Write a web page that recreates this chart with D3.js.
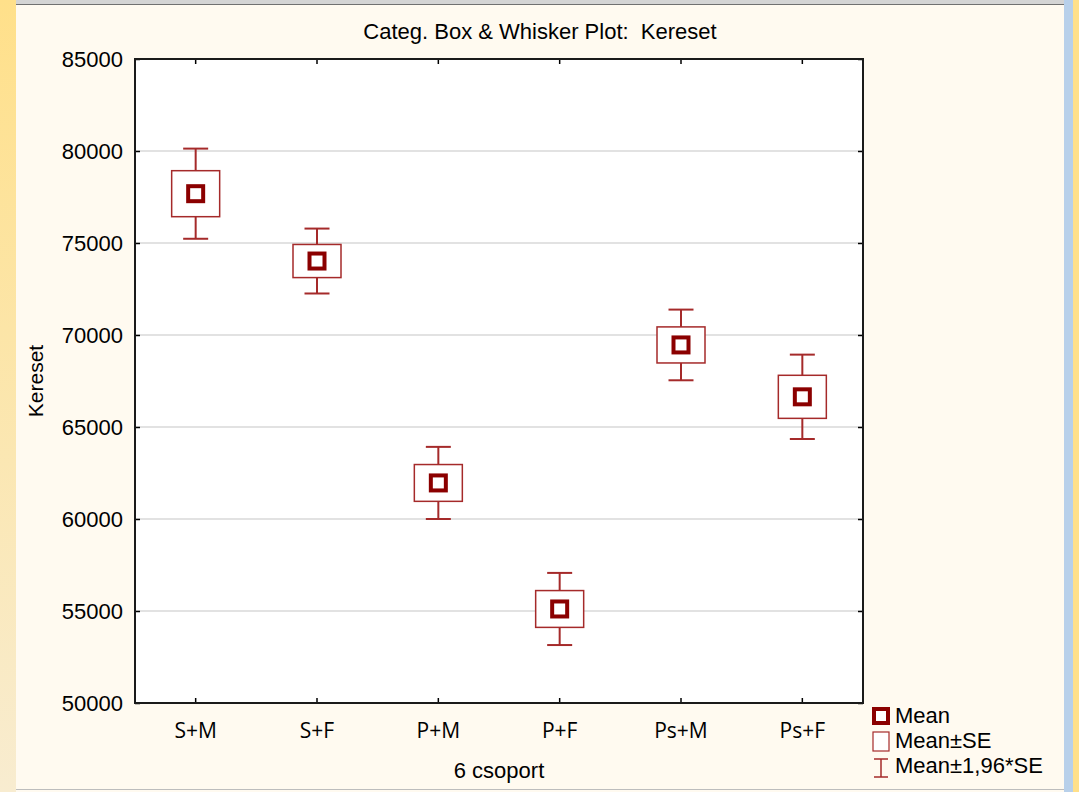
<!DOCTYPE html>
<meta charset="utf-8">
<script src="https://d3js.org/d3.v7.min.js"></script>
<style>
  html, body { margin: 0; padding: 0; background: #fffaf0; overflow: hidden; }
</style>
<div id="chart"></div>
<script>
// data
var groups = ["S+M", "S+F", "P+M", "P+F", "Ps+M", "Ps+F"];
var means  = [77680, 74020, 61960, 55110, 69460, 66640];
var seVals = [1250, 900, 1000, 1000, 980, 1170];
var yTicks = [50000, 55000, 60000, 65000, 70000, 75000, 80000, 85000];
var legendLabels = ["Mean", "Mean\u00b1SE", "Mean\u00b11,96*SE"];

var W = 1079, H = 792;
var margin = {top: 59, right: 216, bottom: 89, left: 135};
var width = W - margin.left - margin.right,
    height = H - margin.top - margin.bottom;

var svg = d3.select("#chart").append("svg")
    .attr("width", W).attr("height", H);

// window frame pieces around the screenshot
var defs = svg.append("defs");
var lg = defs.append("linearGradient").attr("id", "leftBand")
    .attr("x1", 0).attr("y1", 0).attr("x2", 0).attr("y2", 1);
lg.append("stop").attr("offset", "0%").attr("stop-color", "#ffe08a");
lg.append("stop").attr("offset", "100%").attr("stop-color", "#f8ecd0");
svg.append("rect").attr("width", W).attr("height", H).attr("fill", "#fffaf0");
svg.append("rect").attr("x", 0).attr("y", 0).attr("width", 16).attr("height", H).attr("fill", "url(#leftBand)");
svg.append("rect").attr("x", 1064).attr("y", 0).attr("width", 9).attr("height", H).attr("fill", "#b8d0ea");
svg.append("rect").attr("x", 1073).attr("y", 0).attr("width", 6).attr("height", H).attr("fill", "#ffe08a");
svg.append("rect").attr("x", 16).attr("y", 0).attr("width", 1048).attr("height", 4).attr("fill", "#d4d4d4");
svg.append("rect").attr("x", 16).attr("y", 4).attr("width", 1048).attr("height", 1).attr("fill", "#707070");
svg.append("rect").attr("x", 16).attr("y", 789).attr("width", 1048).attr("height", 1).attr("fill", "#bdbdbd");

var g = svg.append("g")
    .attr("transform", "translate(" + margin.left + "," + margin.top + ")");

var x = d3.scaleBand().domain(groups).range([0, width]);
var y = d3.scaleLinear().domain([50000, 85000]).range([height, 0]);

// plot area
g.append("rect").attr("width", width).attr("height", height).attr("fill", "#ffffff");

// grid lines
g.selectAll(".grid").data(yTicks.slice(1, -1)).enter().append("line")
    .attr("x1", 0).attr("x2", width)
    .attr("y1", d => y(d)).attr("y2", d => y(d))
    .attr("stroke", "#d9d9d9").attr("stroke-width", 1.5);

var mainColor = "#8b0000", boxColor = "#a52a2a";

var items = g.selectAll(".item").data(groups).enter().append("g")
    .attr("transform", d => "translate(" + (x(d) + x.bandwidth() / 2) + ",0)");

// whiskers (mean ± 1.96*SE)
items.append("line")
    .attr("y1", (d, i) => y(means[i] + 1.96 * seVals[i]))
    .attr("y2", (d, i) => y(means[i] - 1.96 * seVals[i]))
    .attr("stroke", boxColor).attr("stroke-width", 2);
[1, -1].forEach(function(s) {
  items.append("line")
      .attr("x1", -12.5).attr("x2", 12.5)
      .attr("y1", (d, i) => y(means[i] + s * 1.96 * seVals[i]))
      .attr("y2", (d, i) => y(means[i] + s * 1.96 * seVals[i]))
      .attr("stroke", boxColor).attr("stroke-width", 2);
});

// SE box
items.append("rect")
    .attr("x", -24).attr("width", 48)
    .attr("y", (d, i) => y(means[i] + seVals[i]))
    .attr("height", (d, i) => y(means[i] - seVals[i]) - y(means[i] + seVals[i]))
    .attr("fill", "#ffffff").attr("stroke", boxColor).attr("stroke-width", 1.5);

// mean marker
items.append("rect")
    .attr("x", -7.5).attr("width", 15)
    .attr("y", (d, i) => y(means[i]) - 7.5).attr("height", 15)
    .attr("fill", "#ffffff").attr("stroke", mainColor).attr("stroke-width", 4);

// inward ticks on all four sides
g.append("g").attr("transform", "translate(0," + height + ")")
    .call(d3.axisBottom(x).tickSize(-5).tickFormat(""));
g.append("g")
    .call(d3.axisTop(x).tickSize(-5).tickFormat(""));
g.append("g")
    .call(d3.axisLeft(y).tickValues(yTicks).tickSize(-5).tickFormat(""));
g.append("g").attr("transform", "translate(" + width + ",0)")
    .call(d3.axisRight(y).tickValues(yTicks).tickSize(-5).tickFormat(""));
g.selectAll(".domain").remove();
g.selectAll(".tick line").attr("stroke", "#000").attr("stroke-width", 1.5);

// frame
g.append("rect").attr("width", width).attr("height", height)
    .attr("fill", "none").attr("stroke", "#1a1a1a").attr("stroke-width", 2);

// y tick labels
g.selectAll(".ylab").data(yTicks).enter().append("text")
    .attr("x", -12).attr("y", d => y(d)).attr("dy", "0.35em")
    .attr("text-anchor", "end")
    .style("font-family", "Liberation Sans, Arial, sans-serif").style("font-size", "22px")
    .attr("fill", "#000").text(d => d);

// x tick labels
g.selectAll(".xlab").data(groups).enter().append("text")
    .attr("x", d => x(d) + x.bandwidth() / 2).attr("y", height + 35)
    .attr("text-anchor", "middle")
    .style("font-family", "Open Sans, sans-serif").style("font-size", "21px")
    .attr("fill", "#000").text(d => d);

// titles
svg.append("text").attr("x", 540).attr("y", 39).attr("text-anchor", "middle")
    .style("font-family", "Liberation Sans, Arial, sans-serif").style("font-size", "22px")
    .style("white-space", "pre")
    .text("Categ. Box & Whisker Plot:  Kereset");
svg.append("text").attr("x", 499).attr("y", 778).attr("text-anchor", "middle")
    .style("font-family", "Liberation Sans, Arial, sans-serif").style("font-size", "22px")
    .text("6 csoport");
svg.append("text").attr("transform", "translate(43,381) rotate(-90)").attr("text-anchor", "middle")
    .style("font-family", "Liberation Sans, Arial, sans-serif").style("font-size", "21px")
    .text("Kereset");

// legend
var leg = svg.append("g").attr("transform", "translate(872,706)");
var rowH = 25;
leg.append("rect").attr("x", 2).attr("y", 3).attr("width", 14).attr("height", 14)
    .attr("fill", "#fff").attr("stroke", mainColor).attr("stroke-width", 4);
leg.append("rect").attr("x", 1).attr("y", rowH + 1).attr("width", 16).attr("height", 19)
    .attr("fill", "#fff").attr("stroke", boxColor).attr("stroke-width", 1.2);
leg.append("line").attr("x1", 9).attr("x2", 9).attr("y1", 2 * rowH + 3).attr("y2", 2 * rowH + 21)
    .attr("stroke", boxColor).attr("stroke-width", 1.5);
leg.append("line").attr("x1", 2).attr("x2", 16).attr("y1", 2 * rowH + 3).attr("y2", 2 * rowH + 3)
    .attr("stroke", boxColor).attr("stroke-width", 1.5);
leg.append("line").attr("x1", 2).attr("x2", 16).attr("y1", 2 * rowH + 21).attr("y2", 2 * rowH + 21)
    .attr("stroke", boxColor).attr("stroke-width", 1.5);
leg.selectAll(".ltext").data(legendLabels).enter().append("text")
    .attr("x", 23).attr("y", (d, i) => i * rowH + 17)
    .style("font-family", "Liberation Sans, Arial, sans-serif").style("font-size", "22px")
    .text(d => d);
</script>
